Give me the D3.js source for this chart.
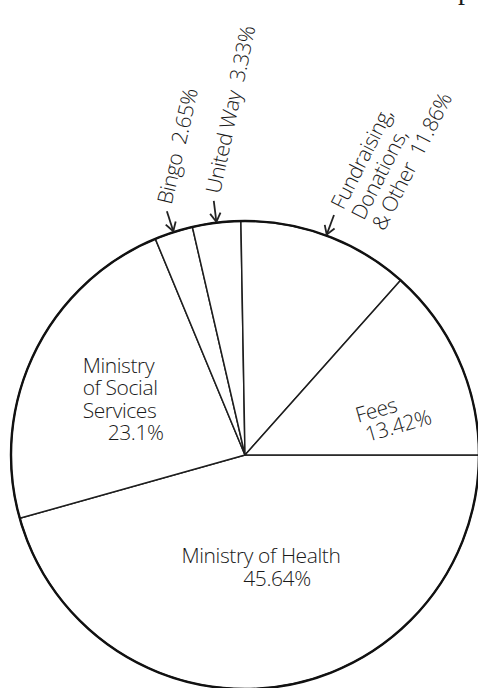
<!DOCTYPE html>
<html>
<head>
<meta charset="utf-8">
<script src="https://cdn.jsdelivr.net/npm/d3@7"></script>
<style>
  body { margin: 0; background: #fff; }
  svg { display: block; }
  text { font-family: "Open Sans", "DejaVu Sans", sans-serif; fill: #1a1a1a; }
  .lbl { font-size: 21px; font-weight: 350; letter-spacing: -0.4px; }
</style>
</head>
<body>
<div id="chart"></div>
<script>
// funding sources, in drawing order (clockwise from 3 o'clock)
const sources = ["Ministry of Health", "Ministry of Social Services", "Bingo", "United Way", "Fundraising, Donations, & Other", "Fees"];
const shares = [45.64, 23.1, 2.65, 3.33, 11.86, 13.42];
// how each name is broken over lines on the chart
const nameLines = [
    ["Ministry of Health"],
    ["Ministry", "of Social", "Services"],
    ["Bingo"],
    ["United Way"],
    ["Fundraising,", "Donations,", "& Other"],
    ["Fees"]
];
// slices that are labelled outside with an arrow
const calledOut = ["Bingo", "United Way", "Fundraising, Donations, & Other"];

const data = sources.map((s, i) => ({ name: s, share: shares[i], lines: nameLines[i] }));

var width = 478, height = 688;
var cx = 245, cy = 455, R = 234;

const svg = d3.select("#chart")
    .append("svg")
    .attr("width", width)
    .attr("height", height)

// bit of the cut-off title at the top edge of the scan
svg.append("text")
    .attr("x", 458)
    .attr("y", -1)
    .text("p")
    .style("font-family", "'Liberation Serif', serif")
    .style("font-size", "28px")
    .attr("fill", "#111")

const g = svg.append("g").attr("transform", `translate(${cx},${cy})`)

const pie = d3.pie()
    .sort(null)
    .value(d => d.share)
    .startAngle(Math.PI / 2)
    .endAngle(Math.PI / 2 + 2 * Math.PI)
const arcs = pie(data)
const arc = d3.arc().innerRadius(0).outerRadius(R)

// slices
g.selectAll(".slice")
    .data(arcs)
    .enter()
    .append("path")
    .attr("class", "slice")
    .attr("d", arc)
    .attr("fill", "#fff")
    .attr("stroke", "#1e1e1e")
    .attr("stroke-width", 1.5)
    .attr("stroke-linejoin", "round")

// heavier rim
g.append("circle")
    .attr("r", R)
    .attr("fill", "none")
    .attr("stroke", "#111")
    .attr("stroke-width", 2.4)

const mid = d => (d.startAngle + d.endAngle) / 2
const at = (a, r) => [r * Math.sin(a), -r * Math.cos(a)]
const fmt = v => v + "%"

// label placement tweaks (radius factor, nudge, tilt, extra indent of % line)
const inner = {
    "Ministry of Health": { rf: 0.5, dx: 0, dy: -8, rot: 0, anchor: "middle", lh: 23, pdx: 16 },
    "Ministry of Social Services": { rf: 0.6, dx: -36, dy: -21, rot: 0, anchor: "start", lh: 22.5, pdx: 25 },
    "Fees": { rf: 0.67, dx: -30, dy: 32, rot: -16, anchor: "start", lh: 21, pdx: 4 }
}
const outer = {
    "Bingo": { rot: -77 },
    "United Way": { rot: -78 },
    "Fundraising, Donations, & Other": { rot: -63 }
}

// labels inside the pie
arcs.filter(d => !calledOut.includes(d.data.name)).forEach(function (d) {
    const c = inner[d.data.name]
    const p = at(mid(d), R * c.rf)
    const t = g.append("text")
        .attr("class", "lbl")
        .attr("transform", `translate(${p[0] + c.dx},${p[1] + c.dy}) rotate(${c.rot})`)
        .attr("text-anchor", c.anchor)
    const lines = d.data.lines.concat([fmt(d.data.share)])
    lines.forEach(function (l, i) {
        t.append("tspan")
            .attr("x", i == lines.length - 1 ? c.pdx : 0)
            .attr("y", i * c.lh)
            .text(l)
    })
})

// arrows + labels outside the pie
arcs.filter(d => calledOut.includes(d.data.name)).forEach(function (d) {
    const a = mid(d)
    const tip = at(a, R + 1)
    const tail = at(a, R + 22)
    g.append("line")
        .attr("x1", tip[0]).attr("y1", tip[1])
        .attr("x2", tail[0]).attr("y2", tail[1])
        .attr("stroke", "#222").attr("stroke-width", 1.8)
    // open arrow head
    const wing = 10, spread = 0.55
    ;[-1, 1].forEach(function (s) {
        const w = [tip[0] + wing * Math.sin(a + s * spread), tip[1] - wing * Math.cos(a + s * spread)]
        g.append("line")
            .attr("x1", tip[0]).attr("y1", tip[1])
            .attr("x2", w[0]).attr("y2", w[1])
            .attr("stroke", "#222").attr("stroke-width", 1.8)
    })

    const c = outer[d.data.name]
    const p = at(a, R + 30)
    const lines = d.data.lines.slice()
    lines[lines.length - 1] += "\u00a0\u00a0" + fmt(d.data.share)
    const t = g.append("text")
        .attr("class", "lbl")
        .attr("transform", `translate(${p[0]},${p[1]}) rotate(${c.rot})`)
        .attr("text-anchor", "start")
    lines.forEach(function (l, i) {
        t.append("tspan")
            .attr("x", 0)
            .attr("y", i * 23)
            .attr("dy", "0.35em")
            .text(l)
    })
})
</script>
</body>
</html>
